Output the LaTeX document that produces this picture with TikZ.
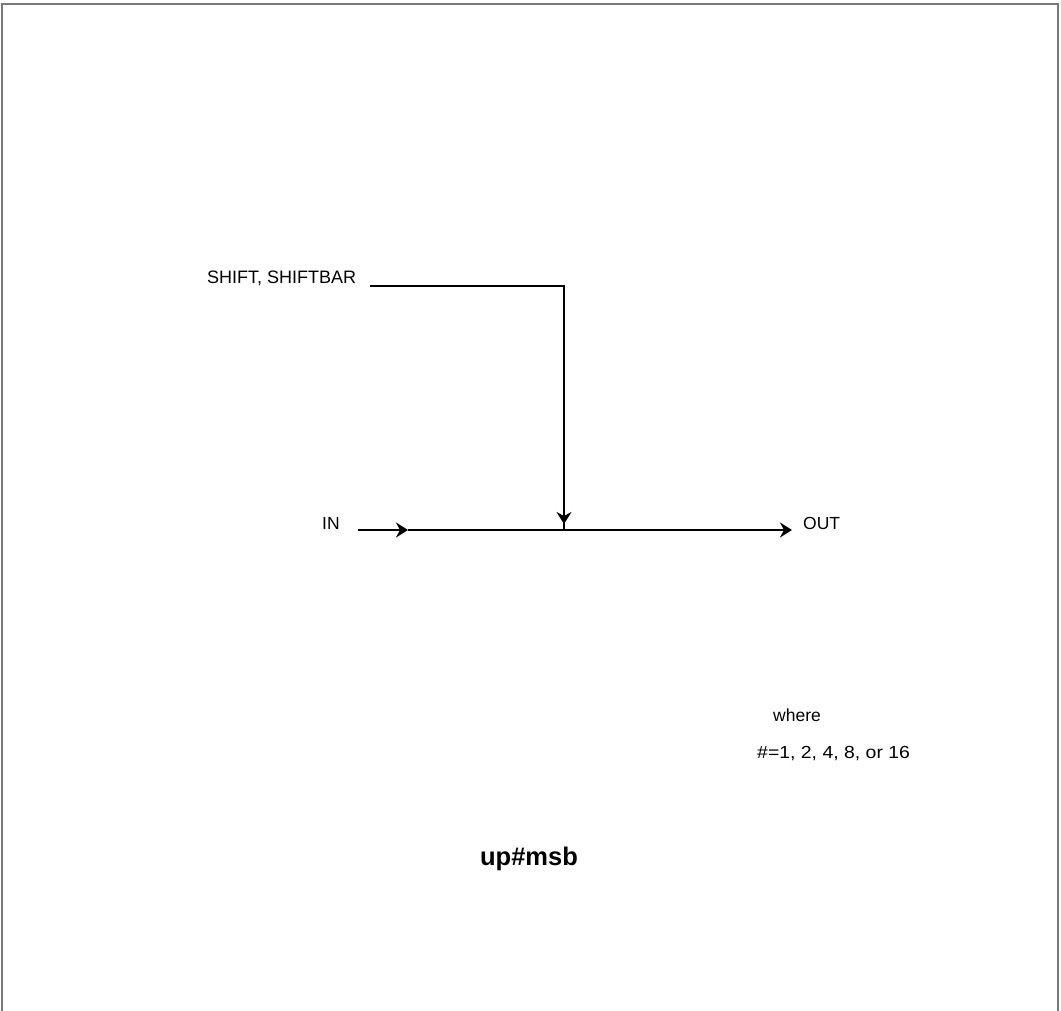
\documentclass[tikz,border=0pt]{standalone}
\usepackage{fontspec}
\setmainfont{Liberation Sans}
\usetikzlibrary{arrows.meta}
\begin{document}
\begin{tikzpicture}[x=1pt,y=-1pt,
  lbl/.style={inner sep=0pt,font=\fontsize{17.5}{20}\selectfont},
  wire/.style={line width=2.3pt,black},
  tip/.style={-{Stealth[length=12pt,width=15pt,inset=4pt]}},
  frame/.style={draw=gray!95!black,line width=1.6pt}]
\useasboundingbox (0,0) rectangle (1061,1011);
\draw[frame] (2,1011) -- (2,4) -- (1058,4) -- (1058,1011);
% labels
\node[lbl,anchor=base west,font=\fontsize{18}{20}\selectfont] (shift) at (207,284) {SHIFT, SHIFTBAR};
\node[lbl,anchor=base west] (in) at (322,529) {IN};
\node[lbl,anchor=base west] (out) at (803,529) {OUT};
\node[lbl,anchor=base west] (where) at (773,721) {where};
\node[lbl,anchor=base west] (cond) at (757,758) {\scalebox{1.11}[1]{\#=1, 2, 4, 8, or 16}};
\node[inner sep=0pt,anchor=base,font=\fontsize{25.5}{28}\selectfont\bfseries] (title) at (529,865) {up\#msb};
% connector coordinates
\coordinate (s0) at (370,286);
\coordinate (s1) at (564,286);
\coordinate (j) at (564,530);
\coordinate (jt) at (564,524);
\coordinate (i0) at (358,530);
\coordinate (im) at (408,530);
\coordinate (o0) at (792,530);
\draw[wire] (s0) -- (s1) -- (j);
\draw[wire,tip] (s1) -- (jt);
\draw[wire,tip] (i0) -- (im);
\draw[wire,tip] (im) -- (o0);
\end{tikzpicture}
\end{document}
